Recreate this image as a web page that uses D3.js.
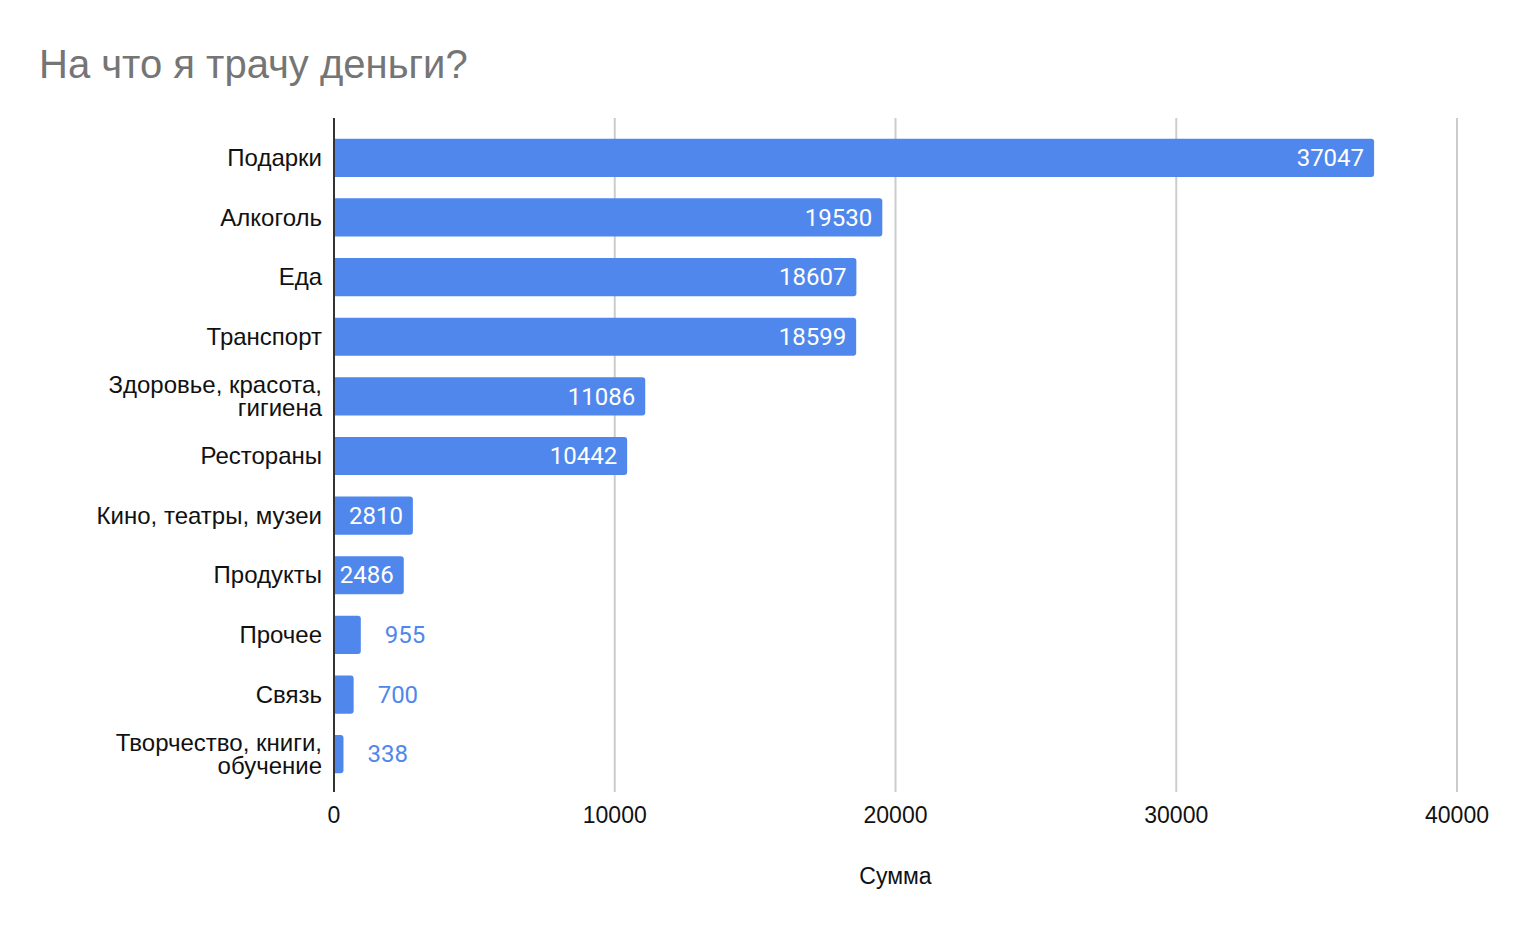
<!DOCTYPE html>
<head>
  <meta charset="utf-8">
  <style>
    body { margin: 0; background: #fff; font-family: 'Liberation Sans', Arial, sans-serif; }
    .title { fill: #757575; font-size: 40px; }
    .cat { fill: #111; font-size: 24px; }
    .axis-title { fill: #111; font-size: 23px; }
    .tick-label { fill: #111; font-size: 23px; }
    .value { font-family: Roboto, sans-serif; font-size: 24px; }
    .grid { stroke: #cccccc; stroke-width: 2px; }
    .bar { fill: #5087ec; }
  </style>
</head>
<body>
<svg id="chart" width="1529" height="951"></svg>
<script src="https://cdnjs.cloudflare.com/ajax/libs/d3/7.8.5/d3.min.js"></script>
<script>
  // data
  const categories = [
    ["Подарки"],
    ["Алкоголь"],
    ["Еда"],
    ["Транспорт"],
    ["Здоровье, красота,", "гигиена"],
    ["Рестораны"],
    ["Кино, театры, музеи"],
    ["Продукты"],
    ["Прочее"],
    ["Связь"],
    ["Творчество, книги,", "обучение"]
  ];
  const values = [37047, 19530, 18607, 18599, 11086, 10442, 2810, 2486, 955, 700, 338];
  const ticks = [0, 10000, 20000, 30000, 40000];
  const title = "На что я трачу деньги?";
  const axisTitle = "Сумма";

  const svg = d3.select("#chart");

  const x = d3.scaleLinear().domain([0, 40000]).range([334, 1457]);
  const y = d3.scaleBand()
      .domain(d3.range(values.length))
      .range([128, 784])
      .paddingInner(0.36)
      .paddingOuter(0.18);

  svg.append("text")
      .attr("class", "title")
      .attr("x", 39)
      .attr("y", 78)
      .text(title);

  // grid lines
  svg.append("g").selectAll("line")
      .data(ticks.slice(1))
      .join("line")
      .attr("class", "grid")
      .attr("x1", d => x(d)).attr("x2", d => x(d))
      .attr("y1", 118).attr("y2", 792);

  // tick labels
  svg.append("g").selectAll("text")
      .data(ticks)
      .join("text")
      .attr("class", "tick-label")
      .attr("x", d => x(d))
      .attr("y", 823)
      .attr("text-anchor", "middle")
      .text(d => d);

  // bars, rounded on the right end only
  const r = 3;
  function barPath(v, i) {
    const x0 = x(0), x1 = x(v), y0 = y(i), h = y.bandwidth();
    const rr = Math.min(r, (x1 - x0) / 2);
    return `M${x0},${y0}H${x1 - rr}Q${x1},${y0} ${x1},${y0 + rr}` +
           `V${y0 + h - rr}Q${x1},${y0 + h} ${x1 - rr},${y0 + h}H${x0}Z`;
  }
  svg.append("g").selectAll("path")
      .data(values)
      .join("path")
      .attr("class", "bar")
      .attr("d", (d, i) => barPath(d, i));

  // zero line
  svg.append("line")
      .attr("x1", x(0)).attr("x2", x(0))
      .attr("y1", 118).attr("y2", 792)
      .attr("stroke", "#333")
      .attr("stroke-width", 2);

  // value labels: inside when they fit, otherwise to the right in blue
  const vg = svg.append("g");
  values.forEach((v, i) => {
    const t = vg.append("text")
        .attr("class", "value")
        .attr("y", y(i) + y.bandwidth() / 2)
        .attr("dy", "0.34em")
        .text(v);
    const w = t.node().getComputedTextLength();
    const barW = x(v) - x(0);
    if (barW > w + 12) {
      t.attr("x", x(v) - 10).attr("text-anchor", "end").attr("fill", "#fff");
    } else {
      t.attr("x", x(v) + 24).attr("text-anchor", "start").attr("fill", "#5087ec");
    }
  });

  // category labels
  const cg = svg.append("g");
  categories.forEach((lines, i) => {
    const cy = y(i) + y.bandwidth() / 2;
    const lh = 23;
    const t = cg.append("text")
        .attr("class", "cat")
        .attr("text-anchor", "end");
    lines.forEach((s, j) => {
      t.append("tspan")
          .attr("x", 322)
          .attr("y", cy + (j - (lines.length - 1) / 2) * lh)
          .attr("dy", "0.34em")
          .text(s);
    });
  });

  svg.append("text")
      .attr("class", "axis-title")
      .attr("x", x(20000))
      .attr("y", 884)
      .attr("text-anchor", "middle")
      .text(axisTitle);
</script>
</body>
